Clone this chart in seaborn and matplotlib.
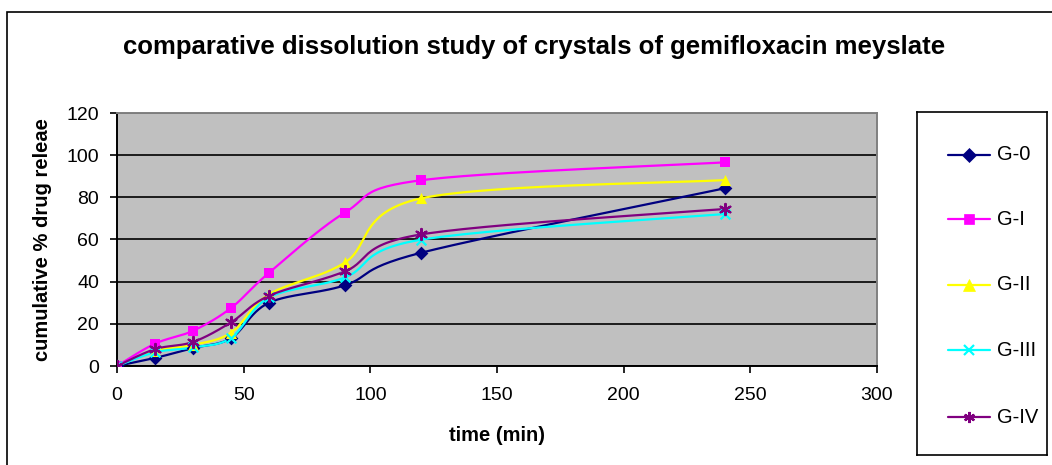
import numpy as np
import pandas as pd
import seaborn as sns
import matplotlib
matplotlib.use("Agg")
import matplotlib.pyplot as plt
from matplotlib.patches import Rectangle
from matplotlib.lines import Line2D

# Sampling times (min)
time_min = [0, 15, 30, 45, 60, 90, 120, 240]

# Cumulative % drug release per crystal batch
g0 = [0, 3.8, 8.5, 13.2, 30.0, 38.3, 53.7, 84.3]
g1 = [0, 10.6, 16.7, 27.5, 44.2, 72.8, 88.1, 96.6]
g2 = [0, 7.3, 10.0, 15.8, 34.0, 49.1, 79.5, 88.2]
g3 = [0, 6.5, 8.8, 13.3, 32.5, 42.0, 59.9, 72.1]
g4 = [0, 8.0, 11.4, 20.7, 33.3, 44.9, 62.4, 74.5]

series_names = ["G-0", "G-I", "G-II", "G-III", "G-IV"]
series_values = [g0, g1, g2, g3, g4]

colors = ["#000080", "#FF00FF", "#FFFF00", "#00FFFF", "#800080"]
markers = ["D", "s", "^", "x", (6, 2, 0)]
msizes = [7, 7, 8, 7, 8]

x_ticks = [0, 50, 100, 150, 200, 250, 300]
y_ticks = [0, 20, 40, 60, 80, 100, 120]


def smooth_curve(x, y, n=30):
    """Bezier smoothing through every point (Catmull-Rom style control points)."""
    pts = np.column_stack([x, y]).astype(float)
    out = []
    for i in range(len(pts) - 1):
        p0 = pts[i - 1] if i > 0 else pts[i]
        p1 = pts[i]
        p2 = pts[i + 1]
        p3 = pts[i + 2] if i + 2 < len(pts) else pts[i + 1]
        c1 = p1 + (p2 - p0) / 6.0
        c2 = p2 - (p3 - p1) / 6.0
        t = np.linspace(0, 1, n)[:, None]
        seg = ((1 - t) ** 3) * p1 + 3 * ((1 - t) ** 2) * t * c1 + 3 * (1 - t) * t ** 2 * c2 + t ** 3 * p2
        out.append(seg if i == 0 else seg[1:])
    return np.vstack(out)


sns.set_theme(style="white")
plt.rcParams["font.family"] = ["Liberation Sans", "DejaVu Sans"]
plt.rcParams["text.color"] = "black"
plt.rcParams["axes.labelcolor"] = "black"
plt.rcParams["xtick.color"] = "black"
plt.rcParams["ytick.color"] = "black"

W, H = 1052, 465
fig = plt.figure(figsize=(W / 100, H / 100), dpi=100)

# Outer chart border (left and top edges inside the canvas)
fig.add_artist(Rectangle((7 / W, -0.1), 1.2, (H - 12) / H + 0.1, transform=fig.transFigure,
                         fill=False, edgecolor="black", linewidth=1.2))

ax = fig.add_axes([117 / W, 1 - 366 / H, 760 / W, 253 / H])
ax.set_facecolor("#C0C0C0")

pts_rows = []
for name, vals, col in zip(series_names, series_values, colors):
    curve = smooth_curve(time_min, vals)
    df = pd.DataFrame({"t": curve[:, 0], "v": curve[:, 1]})
    sns.lineplot(data=df, x="t", y="v", ax=ax, color=col, linewidth=1.6,
                 sort=False, estimator=None, zorder=3)
    for t, v in zip(time_min, vals):
        pts_rows.append({"t": t, "v": v, "series": name})

pts = pd.DataFrame(pts_rows)
for name, col, mk, ms in zip(series_names, colors, markers, msizes):
    sub = pts[pts["series"] == name]
    lw = 1.6 if mk in ("x",) or isinstance(mk, tuple) else 0
    sns.scatterplot(data=sub, x="t", y="v", ax=ax, color=col, marker=mk, s=ms ** 2,
                    edgecolor=col, linewidth=lw, zorder=4, legend=False)

ax.set_xlim(0, 300)
ax.set_ylim(0, 120)
ax.set_xticks(x_ticks)
ax.set_yticks(y_ticks)
ax.set_xticklabels([str(v) for v in x_ticks], fontsize=14)
ax.set_yticklabels([str(v) for v in y_ticks], fontsize=14)
ax.yaxis.grid(True, color="black", linewidth=1.2)
ax.xaxis.grid(False)
ax.set_axisbelow(True)
ax.tick_params(axis="both", direction="out", length=5, width=1.2, color="black",
               left=True, bottom=True, labelcolor="black")
ax.tick_params(axis="x", pad=10)
ax.tick_params(axis="y", pad=8)
for side in ("left", "bottom"):
    ax.spines[side].set_color("black")
    ax.spines[side].set_linewidth(1.4)
for side in ("top", "right"):
    ax.spines[side].set_color("#808080")
    ax.spines[side].set_linewidth(1.4)
ax.set_xlabel("time (min)", fontsize=14.5, fontweight="bold", labelpad=16)
ax.set_ylabel("cumulative % drug releae", fontsize=14.5, fontweight="bold", labelpad=10)

fig.text(534 / W, 1 - 47 / H, "comparative dissolution study of crystals of gemifloxacin meyslate",
         ha="center", va="center", fontsize=18.5, fontweight="bold")

# Legend panel
lax = fig.add_axes([917 / W, 1 - 455 / H, 130 / W, 343 / H])
lax.set_xlim(0, 130)
lax.set_ylim(343, 0)
lax.set_xticks([])
lax.set_yticks([])
lax.set_facecolor("white")
for sp in lax.spines.values():
    sp.set_color("black")
    sp.set_linewidth(1.2)
row_y = [43, 107, 173, 238, 305]
for name, col, mk, ms, ry in zip(series_names, colors, markers, msizes, row_y):
    lax.add_line(Line2D([31, 73], [ry, ry], color=col, linewidth=1.6))
    mew = 1.6 if mk == "x" or isinstance(mk, tuple) else 0.5
    lax.add_line(Line2D([52], [ry], color=col, marker=mk, markersize=ms, markeredgewidth=mew,
                        markeredgecolor=col, linestyle="none"))
    lax.text(80, ry, name, fontsize=14.5, va="center", ha="left")

fig.savefig("out.png", dpi=100)
